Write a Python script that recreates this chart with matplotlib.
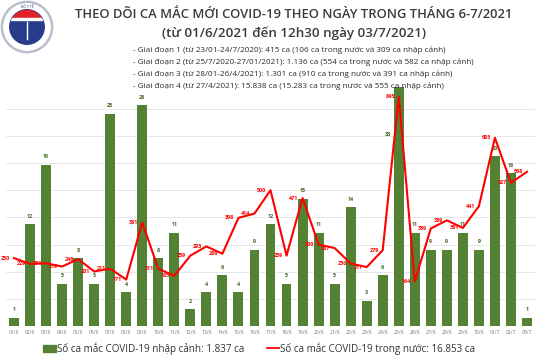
import numpy as np
import matplotlib.pyplot as plt
from matplotlib.patches import Circle, Rectangle
from matplotlib.lines import Line2D

plt.rcParams['font.family'] = ['Open Sans', 'DejaVu Sans']

days = ["01/6", "02/6", "03/6", "04/6", "05/6", "06/6", "07/6", "08/6", "09/6", "10/6",
        "11/6", "12/6", "13/6", "14/6", "15/6", "16/6", "17/6", "18/6", "19/6", "20/6",
        "21/6", "22/6", "23/6", "24/6", "25/6", "26/6", "27/6", "28/6", "29/6", "30/6",
        "01/7", "02/7", "03/7"]
imported = [1, 12, 19, 5, 8, 5, 25, 4, 26, 8, 11, 2, 4, 6, 4, 9, 12, 5, 15, 11, 5, 14,
            3, 6, 33, 11, 9, 9, 11, 9, 20, 18, 1]
domestic = [250, 229, 231, 219, 246, 201, 211, 171, 381, 211, 185, 259, 293, 266, 398,
            414, 500, 259, 471, 300, 287, 230, 217, 279, 845, 164, 359, 389, 361, 441,
            693, 527, 568]

title = "THEO DÕI CA MẮC MỚI COVID-19 THEO NGÀY TRONG THÁNG 6-7/2021"
subtitle = "(từ 01/6/2021 đến 12h30 ngày 03/7/2021)"
notes = [
    "- Giai đoạn 1 (từ 23/01-24/7/2020): 415 ca (106 ca trong nước và 309 ca nhập cảnh)",
    "- Giai đoạn 2 (từ 25/7/2020-27/01/2021): 1.136 ca (554 ca trong nước và 582 ca nhập cảnh)",
    "- Giai đoạn 3 (từ 28/01-26/4/2021): 1.301 ca (910 ca trong nước và 391 ca nhập cảnh)",
    "- Giai đoạn 4 (từ 27/4/2021): 15.838 ca (15.283 ca trong nước và 555 ca nhập cảnh)",
]
bar_label = "Số ca mắc COVID-19 nhập cảnh: 1.837 ca"
line_label = "Số ca mắc COVID-19 trong nước: 16.853 ca"

GREEN = "#548235"
RED = "#ff0000"

fig = plt.figure(figsize=(5.4, 3.6), dpi=100)
fig.patch.set_facecolor("white")

# header
fig.text(0.544, 0.961, title, ha="center", va="center", fontsize=9.4,
         fontweight="semibold", color="#3b3b3b")
fig.text(0.544, 0.908, subtitle, ha="center", va="center", fontsize=9.6,
         fontweight="semibold", color="#3b3b3b")
for i, s in enumerate(notes):
    fig.text(0.246, 0.861 - i * 0.033, s, ha="left", va="center", fontsize=5.9,
             color="#2b2b2b")

# logo
lax = fig.add_axes([0.0, 0.85, 0.1, 0.15])
lax.set_xlim(-1, 1)
lax.set_ylim(-1, 1)
lax.set_aspect("equal")
lax.axis("off")
lax.add_patch(Circle((0, 0), 0.95, color="#b9bccb"))
lax.add_patch(Circle((0, 0), 0.86, color="white"))
inner = Circle((0, 0), 0.64, color="#283c8c")
lax.add_patch(inner)
top = Rectangle((-0.7, 0.3), 1.4, 0.5, color="#e4222a")
lax.add_patch(top)
top.set_clip_path(inner)
lax.add_patch(Rectangle((-0.7, 0.27), 1.4, 0.05, color="white", clip_path=inner))
lax.plot([0, 0], [-0.45, 0.2], color="white", lw=1)
lax.text(0, 0.74, "BỘ Y TẾ", ha="center", va="center", fontsize=2.5, color="#283c8c")

# chart
ax = fig.add_axes([6 / 540, 34 / 360, 529 / 540, 239 / 360])
ax2 = ax.twinx()
x = np.arange(len(days))

bar_top = 239 / 8.5
line_top = 880

ax.bar(x, imported, width=0.62, color=GREEN, zorder=2)
ax.set_ylim(0, bar_top)
ax.set_xlim(-0.5, len(days) - 0.5)
for xi, v in zip(x, imported):
    if v < bar_top - 1:
        ax.text(xi, v + 0.6, str(v), ha="center", va="bottom", fontsize=3.9,
                color="#3d6b22", fontweight="bold")
    else:
        # bar runs past the top of the plot: label to its left
        ax.text(xi - 0.45, bar_top * 0.8, str(v), ha="right", va="center",
                fontsize=3.9, color="#3d6b22", fontweight="bold")

ax2.plot(x, domestic, color=RED, lw=1.5, zorder=3)
ax2.set_ylim(0, line_top)
for xi, v in zip(x, domestic):
    ax2.text(xi - 0.25, v, str(v), ha="right", va="center", fontsize=3.9,
             color=RED, fontweight="bold")

# gridlines every 100 cases of the line scale, drawn behind the bars
ax.set_yticks(np.arange(0, 900, 100) * bar_top / line_top)
ax.grid(axis="y", color="#e6e6e6", lw=0.7, zorder=0)
ax.set_axisbelow(True)
ax.tick_params(axis="y", length=0, labelleft=False)
ax2.set_yticks([])
ax.set_xticks(x)
ax.set_xticklabels(days, fontsize=3.6, color="#777777")
ax.tick_params(axis="x", length=0, pad=3)
for a in (ax, ax2):
    for sp in a.spines.values():
        sp.set_visible(False)

handles = [Rectangle((0, 0), 1, 1, color=GREEN), Line2D([0], [0], color=RED, lw=1.3)]
fig.legend(handles, [bar_label, line_label], loc="center", bbox_to_anchor=(0.48, 0.032),
           ncol=2, frameon=False, fontsize=7.1, handlelength=1.3, handletextpad=0.1,
           columnspacing=2.3, labelcolor="#333333")

fig.savefig("out.png", dpi=100)
